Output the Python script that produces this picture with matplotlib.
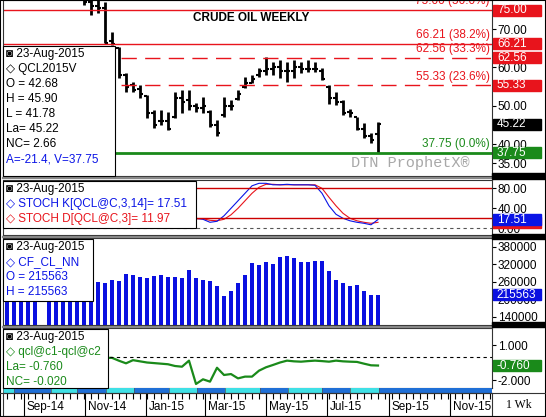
import numpy as np
import pandas as pd
import matplotlib
matplotlib.use("Agg")
import matplotlib.pyplot as plt
import matplotlib.dates as mdates
import matplotlib.transforms as mtransforms
from matplotlib.patches import Rectangle

plt.rcParams['font.family'] = ['Liberation Sans', 'DejaVu Sans']

W, H = 546, 417

# weekly data, oldest first, last week = 23-Aug-2015
weeks = pd.date_range(end='2015-08-21', periods=54, freq='7D')

price_open = [97, 96, 93, 93, 92, 91, 89, 86, 82, 81, 80, 79, 77, 76, 75.5, 67, 65, 58, 55.5, 54.5,
              52.5, 48, 46, 46, 47, 52, 51.5, 50, 49.5, 48.5, 45, 47.5, 50, 51.8, 55, 56, 58, 59, 59.5, 60,
              59, 59, 60, 59.5, 59.5, 59, 55, 52, 51, 48.5, 47, 44, 42, 42.68]
price_high = [98, 96, 95, 94, 93.5, 92, 90, 87, 85, 84, 83, 80, 79, 78, 77, 69.3, 65.4, 58.5, 56.3, 55.4,
              52.8, 48.9, 48.9, 48.5, 53.7, 54.1, 54.1, 50.7, 52.4, 48.9, 46.3, 52.4, 51.5, 54.1, 57.6, 58,
              59.8, 62.7, 61.5, 62, 61.5, 62, 61.5, 62, 61.5, 59.8, 55.4, 53.7, 51.5, 49.3, 47.2, 45.4, 42.8, 45.90]
price_low = [95, 92, 92, 91, 90, 88, 85, 80, 80, 79, 78, 76.3, 73.7, 74.1, 66.3, 65.9, 57.2, 53.7, 53.7, 52,
             46.7, 44.1, 45, 43.7, 46.7, 48, 48.9, 48.5, 48, 44.6, 42, 47.2, 48.9, 51.5, 54.6, 55.9, 57.6, 58,
             58, 57.2, 56.3, 57.2, 58.5, 58.9, 58.9, 56.7, 50.6, 50.2, 47.6, 47.2, 43.7, 41.5, 40.2, 37.75]
price_close = [96, 93, 93, 92, 91, 89, 86, 81, 81, 80, 79, 77, 76, 75.5, 66.5, 66, 58, 55, 54, 53,
               48, 45, 46, 44, 52, 51, 50, 49.5, 50, 45, 43, 50, 50, 53, 56, 57, 59, 59.5, 60, 59,
               59, 60, 59.5, 59.5, 59.5, 57, 52, 51, 48, 48, 44, 42, 41, 45.22]

stoch_k = [30, 25, 20, 18, 15, 12, 10, 8, 6, 5, 5, 4, 6, 5, 4, 8, 10, 12, 15, 20, 18, 16, 22, 25, 20, 18, 22,
           20, 18, 12, 14, 25, 40, 55, 70, 85, 90, 90, 87, 87, 88, 87, 87, 87, 86, 70, 45, 28, 20, 15, 12, 10, 7, 17.51]
stoch_d = [35, 30, 25, 21, 18, 15, 12, 10, 8, 6, 5, 5, 5, 5, 5, 6, 8, 10, 12, 16, 18, 18, 19, 21, 22, 21, 20,
           19, 19, 16, 15, 18, 27, 40, 55, 70, 82, 88, 88, 87, 87, 87, 87, 87, 87, 80, 62, 45, 30, 20, 15, 12, 10, 11.97]

open_int = [250000, 245000, 255000, 250000, 248000, np.nan, 252000, 258000, 262000, 265000, 268000, 262000, 258000,
            260000, 254000, 266000, 264000, 285000, 283000, 275000, 274000, 278000, 283000, 275000, 275000,
            272000, 300000, 272000, 266000, 262000, 245000, 211000, 228000, 254000, 283000, 325000, 317000,
            329000, 321000, 344000, 348000, 341000, 329000, 329000, 331000, 331000, 298000, 266000, 257000,
            245000, 249000, 228000, 214000, 215563]

spread = [-0.3, -0.35, -0.4, -0.45, -0.5, -0.6, -0.55, -0.5, -0.45, -0.4, -0.35, -0.3, -0.25, -0.2, -0.1,
          -0.1, -0.35, -0.57, -0.3, -0.4, -0.5, -0.55, -0.6, -0.65, -0.8, -0.86, -0.34, -2.34, -1.94, -2.14,
          -0.95, -1.57, -1.49, -1.86, -1.71, -1.71, -1.2, -0.91, -0.71, -0.5, -0.34, -0.4, -0.43, -0.38, -0.34,
          -0.38, -0.43, -0.34, -0.4, -0.43, -0.45, -0.6, -0.74, -0.76]

fib_levels = [75.00, 66.21, 62.56, 55.33, 37.75]
fib_labels = ['75.00 (50.0%)', '66.21 (38.2%)', '62.56 (33.3%)', '55.33 (23.6%)', '37.75 (0.0%)']

band_edges = ['2014-08-22', '2014-09-28', '2014-10-24', '2014-11-22', '2014-12-20', '2015-01-24',
              '2015-02-21', '2015-03-21', '2015-04-25', '2015-05-23', '2015-06-26', '2015-07-24', '2015-08-22']

RED = '#e8141c'
GREEN = '#1a8a1a'
BLUE = '#0a14e6'

x = mdates.date2num(weeks)
x0 = mdates.date2num(pd.Timestamp('2015-08-21')) - 375
x1 = mdates.date2num(pd.Timestamp('2015-08-21')) + 114

fig = plt.figure(figsize=(W / 100, H / 100), dpi=100)


def px_axes(left, top, right, bottom):
    return fig.add_axes([left / W, 1 - bottom / H, (right - left) / W, (bottom - top) / H])


def style(ax, ylim, ticks, labels):
    ax.set_xlim(x0, x1)
    ax.set_ylim(*ylim)
    ax.set_xticks([])
    ax.yaxis.tick_right()
    ax.set_yticks(ticks)
    ax.set_yticklabels(labels)
    ax.tick_params(axis='y', labelsize=8.5, length=3, pad=1, direction='out')
    for s in ax.spines.values():
        s.set_color('#333333')
        s.set_linewidth(0.8)


def value_box(ax, y, text, color, zorder=5):
    y0, y1 = ax.get_ylim()
    hpx = ax.get_position().height * H
    h = 11 * (y1 - y0) / hpx
    tr = mtransforms.blended_transform_factory(ax.transAxes, ax.transData)
    wax = 48 / (ax.get_position().width * W)
    ax.add_patch(Rectangle((1.003, y - h / 2), wax, h, transform=tr, color=color,
                           clip_on=False, zorder=zorder))
    ax.text(1.01, y, text, transform=tr, color='white', fontsize=8.5, va='center',
            ha='left', clip_on=False, zorder=zorder + 1)


def legend_box(left, top, right, bottom, lines):
    fig.add_artist(Rectangle((left / W, 1 - bottom / H), (right - left) / W, (bottom - top) / H,
                             transform=fig.transFigure, facecolor='white', edgecolor='black',
                             lw=0.8, zorder=10))
    for i, (txt, col) in enumerate(lines):
        fig.text((left + 3) / W, 1 - (top + 8 + i * 15) / H, txt, color=col, fontsize=8.5,
                 va='center', ha='left', zorder=11, family=['Liberation Sans', 'DejaVu Sans'])


# ---- price panel
ax1 = px_axes(3, 0, 492, 176)
style(ax1, (31.69, 77.61), [35, 40, 50, 60, 70], ['35.00', '40.00', '50.00', '60.00', '70.00'])
ax1.vlines(x, price_low, price_high, color='black', lw=2)
ax1.hlines(np.clip(price_open, price_low, price_high), x - 3, x, color='black', lw=1.5)
ax1.hlines(np.clip(price_close, price_low, price_high), x, x + 3, color='black', lw=1.5)
for lvl, lab in zip(fib_levels, fib_labels):
    if lvl == 37.75:
        ax1.axhline(lvl, color=GREEN, lw=2)
        col = GREEN
    elif lvl in (62.56, 55.33):
        ax1.axhline(lvl, color=RED, lw=1, dashes=(11, 6))
        col = RED
    else:
        ax1.axhline(lvl, color=RED, lw=1)
        col = RED
    ax1.text(0.995, lvl + 0.7, lab, transform=mtransforms.blended_transform_factory(ax1.transAxes, ax1.transData),
             color=col, fontsize=8.5, ha='right', va='bottom')
ax1.text(0.508, 0.895, 'CRUDE OIL WEEKLY', transform=ax1.transAxes, fontsize=8.5,
         fontweight='bold', ha='center', va='center')
ax1.text(0.712, 0.075, 'DTN ProphetX\u00ae', transform=ax1.transAxes, fontsize=11,
         family='Liberation Mono', color='#a8a8a8', ha='left', va='center')
value_box(ax1, 75.00, '75.00', RED)
value_box(ax1, 66.21, '66.21', RED)
value_box(ax1, 62.56, '62.56', RED)
value_box(ax1, 55.33, '55.33', RED)
value_box(ax1, 45.22, '45.22', 'black')
value_box(ax1, 37.75, '37.75', GREEN)

# ---- stochastics
ax2 = px_axes(3, 180, 492, 235)
style(ax2, (-13.4, 96.6), [0, 40, 80], ['0.00', '40.00', '80.00'])
ax2.plot(x, stoch_d, color=RED, lw=0.8)
ax2.plot(x, stoch_k, color=BLUE, lw=0.8)
ax2.axhline(80, color='#cc0000', lw=1)
ax2.axhline(20, color='#cc0000', lw=1)
ax2.axhline(0, color='#555555', lw=0.8, ls=(0, (3, 3)))
value_box(ax2, 11.97, '', RED)
value_box(ax2, 17.51, '17.51', BLUE, zorder=7)

# ---- open interest
ax3 = px_axes(3, 238, 492, 325)
oi_ticks = [140000, 200000, 260000, 320000, 380000]
style(ax3, (111500, 409800), oi_ticks, [str(t) for t in oi_ticks])
ax3.bar(x, open_int, width=4.7, color='#0a10e0')
value_box(ax3, 215563, '215563', '#0a10e0')

# ---- spread
ax4 = px_axes(3, 328, 492, 388)
style(ax4, (-2.685, 2.457), [-2, -0.5, 1], ['-2.000', '', '1.000'])
ax4.plot(x, spread, color=GREEN, lw=1.6)
ax4.axhline(0, color='black', lw=0.8, ls=(0, (3, 3)))
value_box(ax4, -0.760, '-0.760', GREEN)

# ---- contract bands
axb = px_axes(3, 388, 492, 393)
axb.set_xlim(x0, x1)
axb.set_ylim(0, 1)
axb.axis('off')
edges = [x0] + list(mdates.date2num(pd.to_datetime(band_edges))) + [x1]
for i in range(len(edges) - 1):
    col = '#3fe0e6' if i % 2 == 0 and i < len(edges) - 2 else '#1f6fd6'
    axb.add_patch(Rectangle((edges[i], 0), edges[i + 1] - edges[i], 1, color=col, lw=0))
    axb.axvline(edges[i], color='#555555', lw=0.5)

# ---- date strip
axd = px_axes(3, 393, 492, 416)
axd.set_xlim(x0, x1)
axd.set_ylim(0, 1)
axd.set_yticks([])
axd.set_xticks([])
for s in axd.spines.values():
    s.set_color('#333333')
    s.set_linewidth(0.8)
tick_days = np.arange(x[0] - 7, x1, 7)
axd.vlines(tick_days, 0.75, 1, color='black', lw=0.8)
months = pd.date_range('2014-09-01', '2015-11-01', freq='2MS')
for m in months:
    mx = mdates.date2num(m)
    axd.axvline(mx, color='black', lw=0.8)
    axd.text(mx + 3, 0.38, m.strftime('%b-%y'), fontsize=8.5, va='center', ha='left')
fig.text(519 / W, 1 - 405 / H, '1 Wk', fontsize=8.5, family='Liberation Serif', ha='center', va='center')

# panel separators and right side dividers
for yy in [177.5, 236.5, 326.5]:
    fig.add_artist(plt.Line2D([3 / W, 492 / W], [1 - yy / H] * 2, color='#888888', lw=1.6))
for top, bot in [(173, 179), (234, 239), (322, 327)]:
    fig.add_artist(Rectangle((492 / W, 1 - bot / H), 54 / W, (bot - top) / H,
                             transform=fig.transFigure, color='black', zorder=4))
fig.add_artist(plt.Line2D([0, 1], [1 - 392.5 / H] * 2, color='#333333', lw=0.8))
fig.add_artist(Rectangle((0, 0), 1, 1, transform=fig.transFigure, fill=False, edgecolor='black', lw=1.5))

# legend boxes
legend_box(3, 46, 115, 176, [('\u25d9 23-Aug-2015', 'black'), ('\u25c7 QCL2015V', 'black'),
                             ('O = 42.68', 'black'), ('H = 45.90', 'black'), ('L = 41.78', 'black'),
                             ('La= 45.22', 'black'), ('NC= 2.66', 'black'), ('A=-21.4, V=37.75', BLUE)])
legend_box(3, 181, 196, 228, [('\u25d9 23-Aug-2015', 'black'), ('\u25c7 STOCH K[QCL@C,3,14]= 17.51', BLUE),
                              ('\u25c7 STOCH D[QCL@C,3]= 11.97', RED)])
legend_box(3, 239, 93, 301, [('\u25d9 23-Aug-2015', 'black'), ('\u25c7 CF_CL_NN', BLUE),
                             ('O = 215563', BLUE), ('H = 215563', BLUE)])
legend_box(3, 329, 108, 388, [('\u25d9 23-Aug-2015', 'black'), ('\u25c7 qcl@c1-qcl@c2', GREEN),
                              ('La= -0.760', GREEN), ('NC= -0.020', GREEN)])

fig.savefig('out.png', dpi=100)
